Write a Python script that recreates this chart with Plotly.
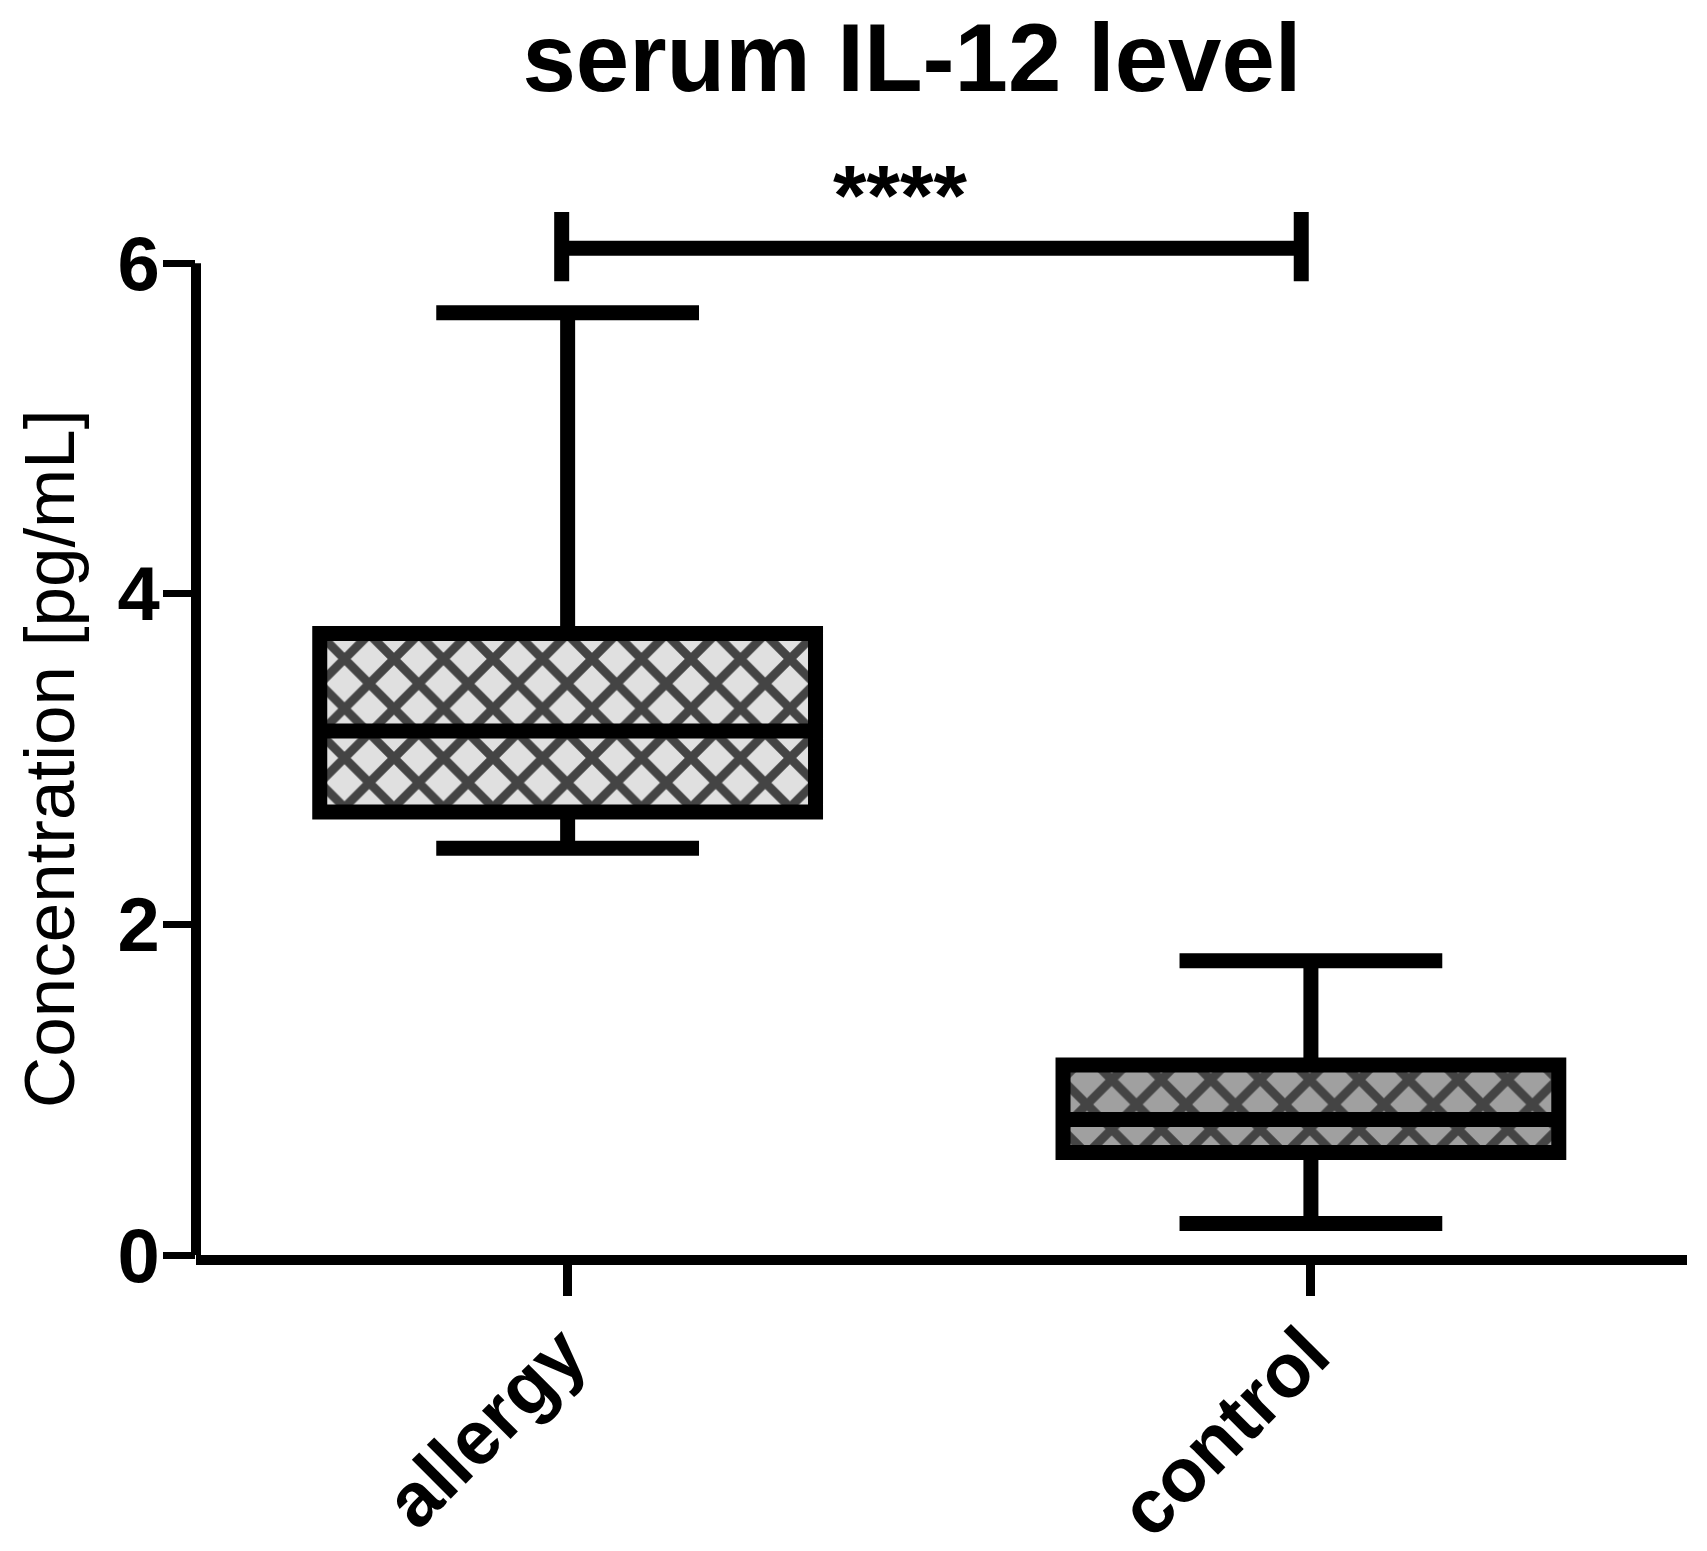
import plotly.graph_objects as go

# groups and box statistics (pg/mL)
CATEGORIES = ["allergy", "control"]
Q1 = [2.68, 0.62]
MEDIAN = [3.17, 0.82]
Q3 = [3.76, 1.15]
LOWER = [2.46, 0.19]
UPPER = [5.70, 1.78]
FILLS = ["#e0e0e0", "#a0a0a0"]

Y_TICKS = [0, 2, 4, 6]

# significance bracket (x in category index units)
SIG_X = [-0.008, 0.987]
SIG_Y = 6.09
SIG_ENDS = [5.89, 6.31]
SIG_LABEL = "****"

FONT = "Liberation Sans, Arial, sans-serif"
BOX_W = 0.667
X_RANGE = [-0.5, 1.506]
W, H = 1707, 1551
PAGE_PAD = 8  # default body margin of the html page

fig = go.Figure()

# hatched box body
fig.add_trace(go.Bar(
    x=CATEGORIES,
    y=[hi - lo for hi, lo in zip(Q3, Q1)],
    base=Q1,
    width=BOX_W,
    marker=dict(
        color=FILLS,
        line=dict(width=0),
        pattern=dict(shape="x", fgcolor="black", fgopacity=1,
                     size=35, solidity=0.44),
    ),
    showlegend=False,
    hoverinfo="skip",
))

# outline, median and whiskers
fig.add_trace(go.Box(
    x=CATEGORIES,
    q1=Q1, median=MEDIAN, q3=Q3,
    lowerfence=LOWER, upperfence=UPPER,
    width=BOX_W,
    whiskerwidth=0.53,
    fillcolor="rgba(0,0,0,0)",
    line=dict(color="black", width=15),
    boxpoints=False,
    showlegend=False,
))

# bracket on a hidden linear axis that mirrors the category positions
xl, xr = SIG_X
fig.add_trace(go.Scatter(
    x=[xl, xr, None, xl, xl, None, xr, xr],
    y=[SIG_Y, SIG_Y, None, SIG_ENDS[0], SIG_ENDS[1], None, SIG_ENDS[0], SIG_ENDS[1]],
    xaxis="x2",
    mode="lines",
    line=dict(color="black", width=15),
    showlegend=False,
    hoverinfo="skip",
))

fig.add_annotation(
    x=0.447, y=6.41, xref="x2", yref="y",
    text=SIG_LABEL, showarrow=False,
    font=dict(family=FONT, size=86, color="black", weight="bold"),
    yanchor="middle",
)

# y-axis title
fig.add_annotation(
    x=0, y=3, xref="paper", yref="y",
    xshift=-147, xanchor="center", yanchor="middle",
    text="Concentration [pg/mL]", textangle=-90, showarrow=False,
    font=dict(family=FONT, size=71, color="black"),
    borderpad=0,
)

# y-axis line stops at the top tick
fig.add_shape(
    type="line", xref="paper", yref="y",
    x0=0, x1=0, y0=Y_TICKS[0], y1=Y_TICKS[-1],
    line=dict(color="black", width=10),
)

fig.update_layout(
    width=W, height=H,
    margin=dict(l=196 - PAGE_PAD, r=20 + PAGE_PAD, t=164 - PAGE_PAD, b=296 + PAGE_PAD),
    plot_bgcolor="white", paper_bgcolor="white",
    title=dict(
        text="serum IL-12 level",
        x=(912 - PAGE_PAD) / W, xref="container", xanchor="center",
        y=1 - (57 - PAGE_PAD) / H, yref="container", yanchor="middle",
        font=dict(family=FONT, size=96, color="black", weight="bold"),
    ),
    font=dict(family=FONT, color="black"),
    xaxis=dict(
        type="category", categoryorder="array", categoryarray=CATEGORIES,
        range=X_RANGE, automargin=False,
        showline=True, linecolor="black", linewidth=10,
        ticks="outside", ticklen=31, tickwidth=9, tickcolor="black",
        tickangle=-45, ticklabelstandoff=-17, ticklabelshift=-4,
        tickfont=dict(family=FONT, size=76, color="black", weight="bold"),
        showgrid=False, zeroline=False,
    ),
    xaxis2=dict(
        type="linear", overlaying="x", range=X_RANGE,
        visible=False, showgrid=False, zeroline=False,
    ),
    yaxis=dict(
        range=[0, 6.6], automargin=False,
        tickvals=Y_TICKS,
        showline=False,
        ticks="outside", ticklen=32, tickwidth=7, tickcolor="black",
        ticklabelstandoff=-12,
        tickfont=dict(family=FONT, size=76, color="black", weight="bold"),
        showgrid=False, zeroline=False,
    ),
)

fig.write_html("out.html")
